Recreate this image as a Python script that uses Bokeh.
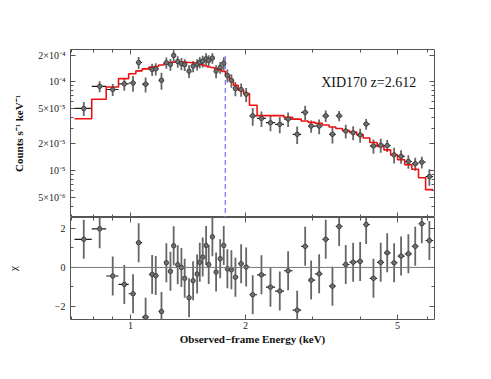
import numpy as np
from bokeh.plotting import figure
from bokeh.layouts import column
from bokeh.models import (FixedTicker, LogAxis, LinearAxis, Label, Span,
                          ColumnDataSource, Range1d, CustomJSTickFormatter)
from bokeh.embed import file_html
from bokeh.resources import INLINE

# ---------------- data ----------------
energy = [0.755, 0.831, 0.899, 0.964, 1.016, 1.051, 1.096, 1.140, 1.165, 1.206,
          1.242, 1.273, 1.298, 1.330, 1.360, 1.387, 1.424, 1.459, 1.495, 1.519,
          1.546, 1.578, 1.603, 1.639, 1.676, 1.718, 1.755, 1.794, 1.838, 1.883,
          1.949, 2.009, 2.090, 2.203, 2.326, 2.460, 2.587, 2.732, 2.867, 2.972,
          3.119, 3.245, 3.379, 3.518, 3.661, 3.828, 3.993, 4.140, 4.326, 4.520,
          4.700, 4.900, 5.110, 5.340, 5.565, 5.790, 6.060]
energy_lo_first = 0.714
energy_hi_last = 6.20

# counts s^-1 keV^-1, in units of 1e-5
flux = [5.02, 8.9, 8.2, 9.5, 9.7, 16.5, 9.4, 13.8, 14.0, 10.4,
        16.4, 15.7, 19.8, 16.9, 16.0, 15.6, 13.2, 15.0, 15.7, 16.6,
        17.1, 18.2, 17.4, 18.5, 13.2, 14.5, 16.2, 11.8, 10.4, 8.4,
        8.2, 7.25, 4.15, 3.88, 3.47, 3.33, 3.81, 2.57, 4.53, 3.18,
        3.18, 4.15, 2.57, 4.15, 2.80, 2.68, 2.52, 3.35, 1.90, 1.94,
        1.92, 1.51, 1.45, 1.27, 1.20, 1.25, 0.86]
flux_err = [0.9, 1.28, 1.25, 1.56, 1.96, 2.54, 1.79, 2.2, 2.2, 2.25,
            2.4, 2.4, 2.85, 2.5, 2.5, 2.4, 2.14, 2.2, 2.3, 2.4,
            2.6, 2.75, 2.5, 2.53, 2.2, 2.2, 2.74, 2.0, 1.8, 1.5,
            1.4, 1.3, 0.94, 0.77, 0.69, 0.69, 0.7, 0.57, 0.84, 0.5,
            0.6, 0.61, 0.55, 0.55, 0.5, 0.48, 0.45, 0.46, 0.35, 0.35,
            0.3, 0.3, 0.25, 0.22, 0.2, 0.19, 0.18]
model = [3.84, 6.37, 8.75, 10.86, 12.35, 13.27, 13.97, 14.64, 14.9, 15.49,
         16.31, 16.52, 16.64, 16.64, 16.64, 16.64, 16.52, 16.39, 16.09, 15.89,
         15.49, 15.09, 14.71, 14.52, 14.15, 13.69, 13.1, 11.82, 10.39, 9.14,
         8.04, 7.38, 5.46, 4.17, 4.17, 4.17, 3.98, 3.81, 3.62, 3.5,
         3.41, 3.27, 3.1, 2.985, 2.835, 2.727, 2.557, 2.337, 2.082, 1.878,
         1.716, 1.51, 1.327, 1.167, 1.039, 0.835, 0.613]
chi = [1.44, 1.98, -0.44, -0.87, -1.35, 1.27, -2.55, -0.36, -0.42, -2.26,
       0.24, -0.2, 1.11, 0.14, 0.0, -0.56, -1.55, -0.68, -0.34, 0.26,
       0.53, 1.13, 0.15, 1.57, -0.24, 0.45, 1.13, -0.07, -0.12, -0.5,
       0.19, 0.02, -1.4, -0.38, -1.01, -1.21, -0.17, -2.19, 1.08, -0.65,
       -0.33, 1.44, -0.96, 2.1, 0.15, 0.27, 0.31, 2.2, -0.56, 0.26,
       0.75, 0.24, 0.58, 0.7, 1.08, 2.24, 1.38]
chi_err = 1.0
flux_unit = 1e-5

source_name = "XID170"
redshift = 2.612
fe_rest_keV = 6.4
fe_line_top = 1.95e-4

x_tick_values = [1, 2, 5]
x_tick_labels = ["1", "2", "5"]
x_minor_ticks = [0.7, 0.8, 0.9, 3, 4, 6]
y_tick_values = [5e-6, 1e-5, 2e-5, 5e-5, 1e-4, 2e-4]
y_tick_labels = ["5×10⁻⁶", "10⁻⁵", "2×10⁻⁵", "5×10⁻⁵", "10⁻⁴", "2×10⁻⁴"]
y_minor_ticks = [3e-6, 4e-6, 6e-6, 7e-6, 8e-6, 9e-6, 3e-5, 4e-5, 6e-5, 7e-5,
                 8e-5, 9e-5]
chi_tick_values = [-2, 0, 2]
chi_tick_labels = ["−2", "0", "2"]
chi_minor_ticks = [-1, 1]

# ---------------- derived quantities ----------------
e = np.array(energy)
mids = np.sqrt(e[:-1] * e[1:])
e_lo = np.concatenate([[energy_lo_first], mids])
e_hi = np.concatenate([mids, [energy_hi_last]])
f = np.array(flux) * flux_unit
fe = np.array(flux_err) * flux_unit
m = np.array(model) * flux_unit
c = np.array(chi)

step_x = np.ravel(np.column_stack([e_lo, e_hi]))
step_y = np.ravel(np.column_stack([m, m]))

src = ColumnDataSource(dict(e=e, lo=e_lo, hi=e_hi, f=f, f_lo=f - fe, f_hi=f + fe,
                            c=c, c_lo=c - chi_err, c_hi=c + chi_err))

FONT = "Liberation Serif"
FRAME = "#555555"
PT = "#333333"
VBAR = "#666666"
HBAR = "#1e1e1e"


def fmt(vals, labs, log):
    code = """
    for (let i = 0; i < vals.length; i++) {
        const d = LOG ? Math.abs(Math.log10(tick) - Math.log10(vals[i]))
                      : Math.abs(tick - vals[i]);
        if (d < 1e-6) return labs[i];
    }
    return "";
    """.replace("LOG", "true" if log else "false")
    return CustomJSTickFormatter(args=dict(vals=vals, labs=labs), code=code)


def axis(cls, ticks, minor, labels=None, log=True):
    a = cls(ticker=FixedTicker(ticks=ticks, minor_ticks=minor))
    a.axis_line_color = None
    a.major_tick_in = 5
    a.major_tick_out = 0
    a.minor_tick_in = 3
    a.minor_tick_out = 0
    a.major_tick_line_color = FRAME
    a.minor_tick_line_color = FRAME
    a.major_label_text_font = FONT
    a.major_label_text_color = "#222222"
    a.axis_label_text_font = FONT
    a.axis_label_text_font_style = "bold"
    a.axis_label_text_font_size = "11px"
    a.axis_label_text_color = "#111111"
    if labels is None:
        a.major_label_text_font_size = "1px"
        a.major_label_standoff = 0
        a.formatter = CustomJSTickFormatter(code="return '';")
    else:
        a.major_label_text_font_size = "10px"
        a.major_label_standoff = 5
        a.formatter = fmt(ticks, labels, log)
    return a


x_range = Range1d(0.697, 6.25)

# ---------------- top panel ----------------
p1 = figure(width=448, height=217, x_axis_type="log", y_axis_type="log",
            x_range=x_range, y_range=Range1d(2.98e-6, 2.31e-4),
            x_axis_location=None, y_axis_location=None,
            toolbar_location=None, output_backend="svg",
            min_border_left=70, min_border_right=14, min_border_top=49,
            min_border_bottom=0)
p1.grid.visible = False
p1.outline_line_color = FRAME
p1.outline_line_width = 1
p1.background_fill_color = "white"
p1.border_fill_color = "white"

yl = axis(LogAxis, y_tick_values, y_minor_ticks, y_tick_labels)
yl.axis_label = "Counts s⁻¹ keV⁻¹"
yl.axis_label_standoff = 10
p1.add_layout(yl, "left")
p1.add_layout(axis(LogAxis, y_tick_values, y_minor_ticks), "right")
p1.add_layout(axis(LogAxis, x_tick_values, x_minor_ticks), "above")
p1.add_layout(axis(LogAxis, x_tick_values, x_minor_ticks), "below")

fe_obs = fe_rest_keV / (1 + redshift)
p1.segment(x0=[fe_obs], y0=[fe_line_top], x1=[fe_obs], y1=[2.98e-6],
           line_color="#7f7fff", line_width=1.3, line_dash="5 3")

p1.segment(x0="e", y0="f_lo", x1="e", y1="f_hi", source=src,
           line_color=VBAR, line_width=1.8)
p1.segment(x0="lo", y0="f", x1="hi", y1="f", source=src,
           line_color=HBAR, line_width=1.2)
p1.line(step_x, step_y, line_color="#ee1111", line_width=1.6)
p1.scatter(x="e", y="f", source=src, size=4.5, fill_color="#707070",
           line_color=PT, line_width=0.8)

p1.add_layout(Label(x=3.157, y=0.987e-4, text=f"{source_name} z={redshift}",
                    text_font=FONT, text_font_size="14px", text_color="#111111",
                    text_baseline="alphabetic", text_align="left"))

# ---------------- bottom panel (residuals) ----------------
p2 = figure(width=448, height=132, x_axis_type="log",
            x_range=x_range, y_range=Range1d(-2.67, 2.56),
            x_axis_location=None, y_axis_location=None,
            toolbar_location=None, output_backend="svg",
            min_border_left=70, min_border_right=14, min_border_top=0,
            min_border_bottom=30)
p2.grid.visible = False
p2.outline_line_color = FRAME
p2.outline_line_width = 1
p2.background_fill_color = "white"
p2.border_fill_color = "white"

cl = axis(LinearAxis, chi_tick_values, chi_minor_ticks, chi_tick_labels, log=False)
cl.axis_label = "χ"
cl.axis_label_text_font_style = "normal"
cl.axis_label_standoff = 33
p2.add_layout(cl, "left")
p2.add_layout(axis(LinearAxis, chi_tick_values, chi_minor_ticks), "right")
p2.add_layout(axis(LogAxis, x_tick_values, x_minor_ticks), "above")
xb = axis(LogAxis, x_tick_values, x_minor_ticks, x_tick_labels)
xb.axis_label = "Observed−frame Energy (keV)"
xb.axis_label_standoff = 1
xb.major_label_standoff = 2
p2.add_layout(xb, "below")

p2.add_layout(Span(location=0, dimension="width", line_color="#777777",
                   line_width=1))
p2.segment(x0="e", y0="c_lo", x1="e", y1="c_hi", source=src,
           line_color=VBAR, line_width=1.8)
p2.segment(x0="lo", y0="c", x1="hi", y1="c", source=src,
           line_color=HBAR, line_width=1.2)
p2.scatter(x="e", y="c", source=src, size=4.5, fill_color="#707070",
           line_color=PT, line_width=0.8)

layout = column(p1, p2)
open("out.html", "w").write(file_html(layout, INLINE))
